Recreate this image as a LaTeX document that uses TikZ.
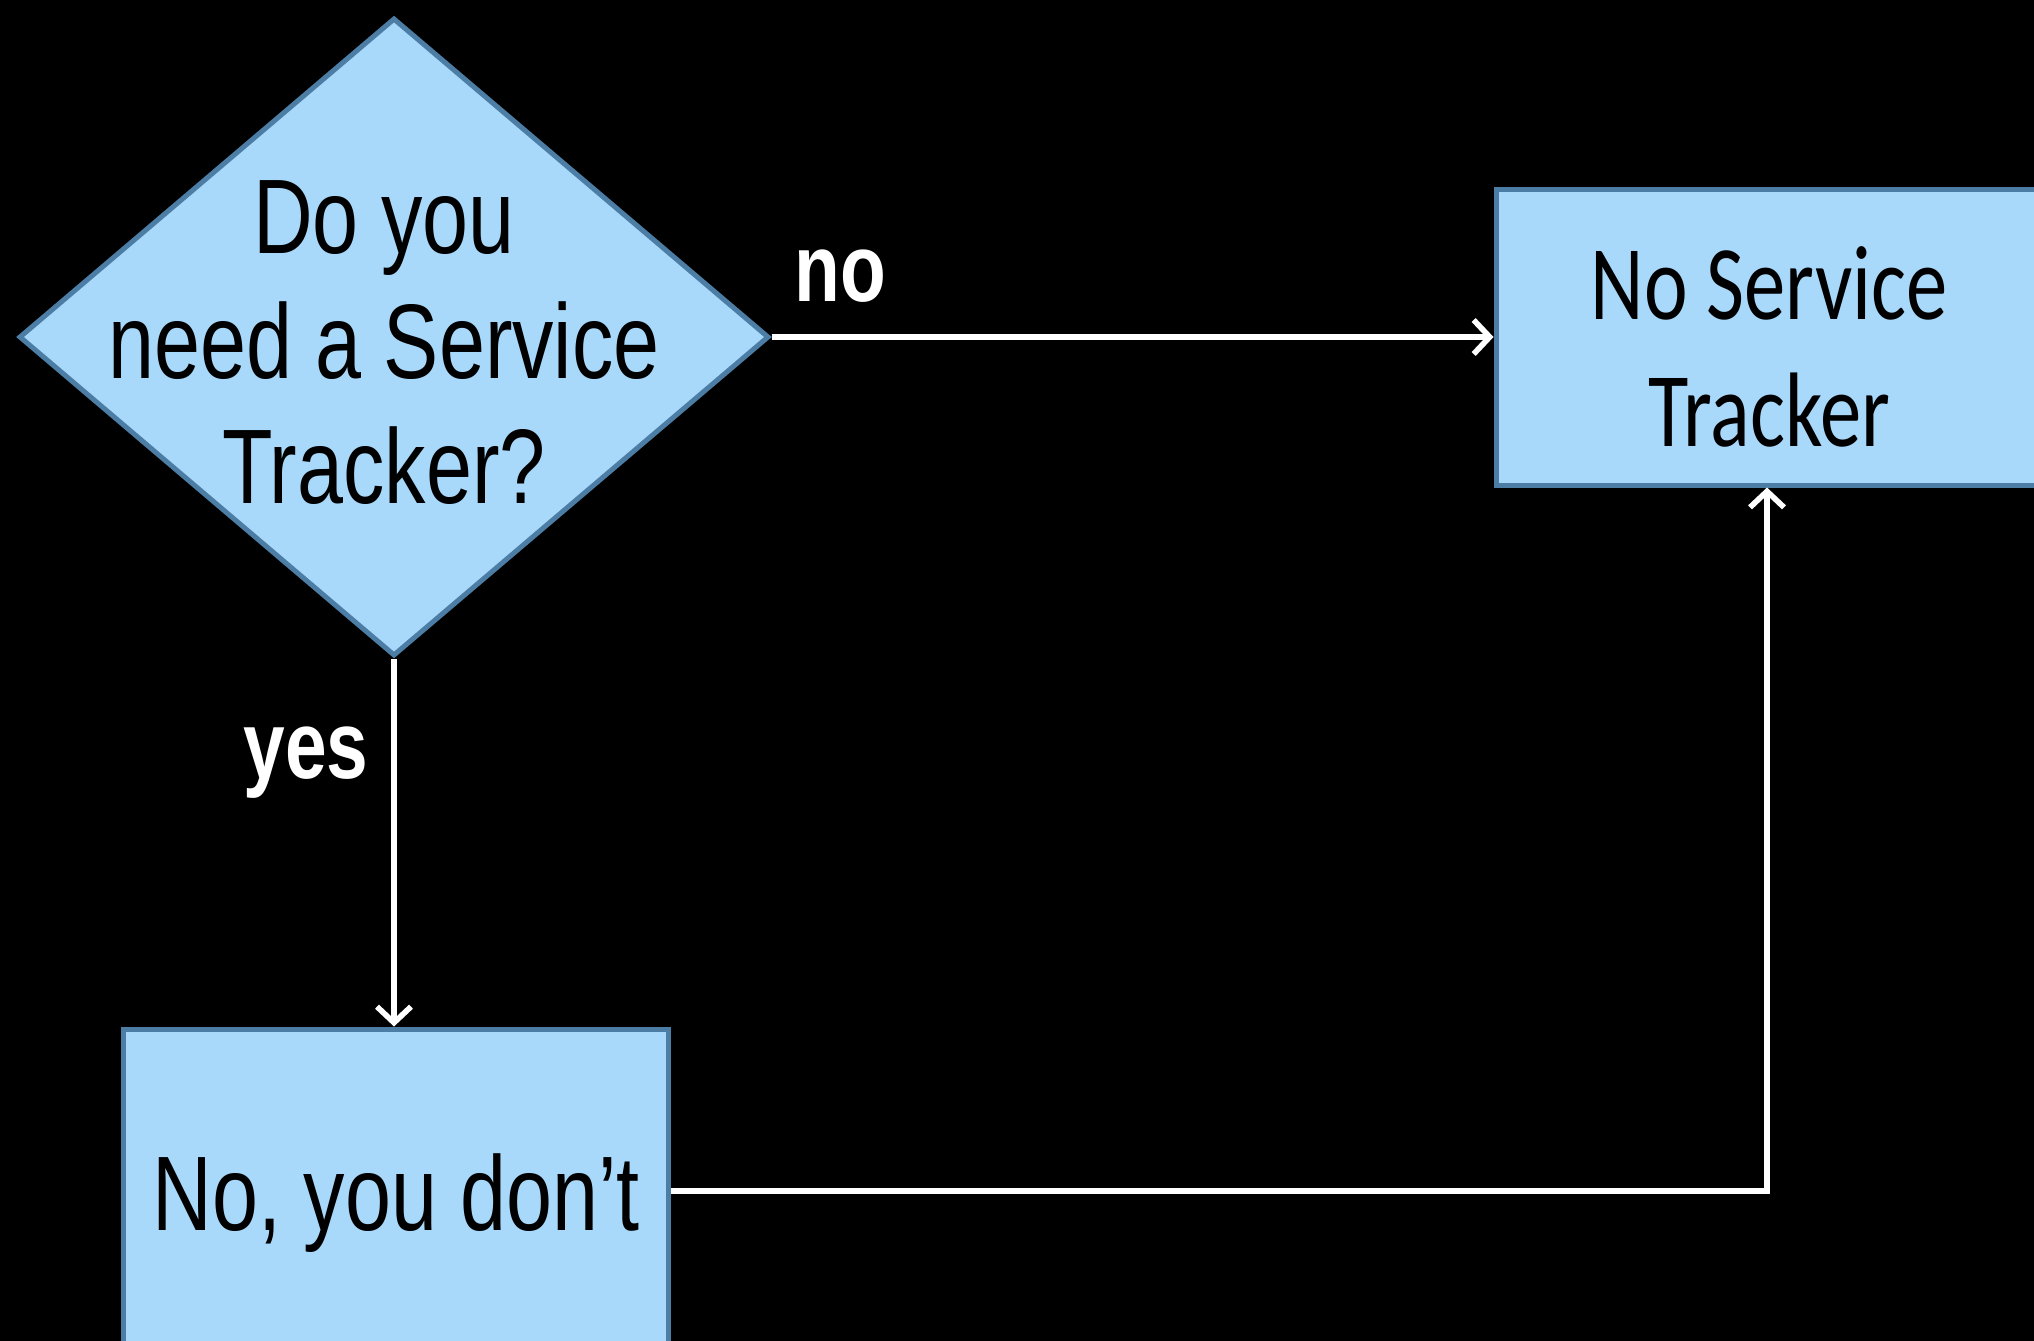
\documentclass[tikz,border=0pt]{standalone}
\usepackage{fontspec}
\setmainfont{Liberation Sans}
\newfontfamily\arialc[FakeStretch=0.78]{Liberation Sans}
\newfontfamily\calic[FakeStretch=0.78]{Carlito}
\usetikzlibrary{shapes.geometric,arrows.meta}
\definecolor{boxfill}{RGB}{168,216,250}
\definecolor{boxline}{RGB}{75,125,165}
\begin{document}
\begin{tikzpicture}[x=0.5pt,y=-0.5pt,
  shapebox/.style={draw=boxline, fill=boxfill, line width=2.5pt, inner sep=0pt},
  decision/.style={shapebox, diamond, minimum width=375pt, minimum height=319pt},
  stepbox/.style={shapebox, rectangle},
  bodytext/.style={inner sep=0pt, align=center, text=black},
  conn/.style={draw=white, line width=2.8pt, -{Straight Barb[length=8pt,width=17pt]}},
  lbl/.style={text=white, inner sep=0pt, font=\arialc\bfseries\fontsize{48}{48}\selectfont}]
\useasboundingbox (0,0) rectangle (2034,1340);
\fill[black] (-20,-20) rectangle (2054,1360);

\node[decision] (q) at (394,337) {};
\node[bodytext, font=\arialc\fontsize{53}{62.5}\selectfont] (qtext) at (384,343) {Do you\\need a Service\\Tracker?};

\node[stepbox, minimum width=271pt, minimum height=148pt] (nst) at (1767,337) {};
\node[bodytext, font=\calic\fontsize{53}{63.5}\selectfont] (nsttext) at (1769,347) {No Service\\Tracker};

\node[stepbox, minimum width=272.5pt, minimum height=162pt] (nyd) at (395.5,1191) {};
\node[bodytext, anchor=base, font=\arialc\fontsize{53}{63.5}\selectfont] (nydtext) at (396,1230) {No, you don’t};

\draw[conn] (q.east) -- (nst.west);
\draw[conn] (q.south) -- (q.south |- nyd.north);
\draw[conn] (nyd.east) -- (nyd.east -| nst.south) -- (nst.south);

\node[lbl, anchor=base west] (nolbl) at (794,301) {no};
\node[lbl, anchor=base west] (yeslbl) at (243,778) {yes};
\end{tikzpicture}
\end{document}
